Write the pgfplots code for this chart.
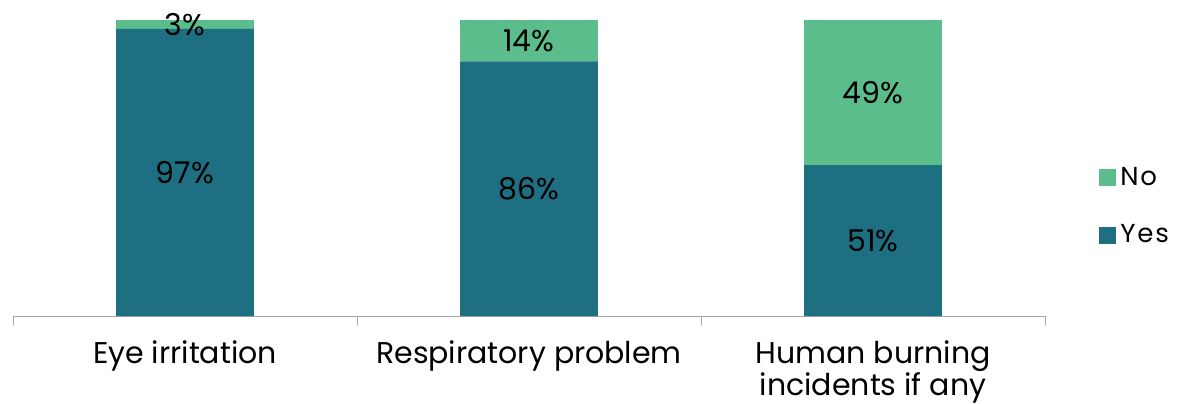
\documentclass[border=0pt]{standalone}
\usepackage{pgfplots}
\pgfplotsset{compat=1.18}
\usepackage{fontspec}
\setmainfont{Poppins}
\newfontfamily\legfont[LetterSpace=7]{Poppins}

\definecolor{yescol}{HTML}{1F6F83}
\definecolor{nocol}{HTML}{5BBD8B}
\definecolor{axgray}{HTML}{A6A6A6}

\pgfplotsset{
  common/.style={
    scale only axis,
    width=516pt, height=148pt,
    xmin=-0.5, xmax=2.5,
    ymin=0, ymax=100,
  }
}

\begin{document}
\begin{tikzpicture}
\begin{axis}[
    common,
    name=ax,
    ybar stacked,
    bar width=0.4,
    axis x line*=bottom,
    axis line style={axgray, -},
    hide y axis,
    xtick={0,1,2},
    xticklabels={Eye irritation, Respiratory problem, {Human burning\\incidents if any}},
    xticklabel style={font=\fontsize{15}{16}\selectfont, align=center, yshift=-4.5pt},
    major x tick style={draw=none},
    minor xtick={-0.5,0.5,1.5,2.5},
    minor tick length=4.5pt,
    minor x tick style={axgray},
    tick align=outside,
    legend style={draw=none, at={(1.0465,0.37)}, anchor=west,
        font=\legfont\fontsize{13}{14}\selectfont, row sep=14pt},
    legend cell align=left,
    reverse legend,
    legend image code/.code={\fill[#1] (0pt,-4.25pt) rectangle (8.5pt,4.25pt);},
]
\addplot[fill=yescol, draw=none] coordinates {(0,97) (1,86) (2,51)};
\addlegendentry{Yes}
\addplot[fill=nocol, draw=none] coordinates {(0,3) (1,14) (2,49)};
\addlegendentry{No}
\end{axis}
% value labels, centred in their segments
\begin{axis}[common, hide axis]
\addplot[draw=none, mark=none, nodes near coords, point meta=explicit symbolic,
    every node near coord/.append style={font=\fontsize{15}{16}\selectfont, text=black, anchor=center}]
  coordinates {
    (0,48.5) [97\%]  (1,43) [86\%]  (2,25.5) [51\%]
    (0,98.5) [3\%]   (1,93) [14\%]  (2,75.5) [49\%]
  };
\end{axis}
\pgfresetboundingbox
\path ([shift={(-6.5pt,-43.5pt)}]ax.south west) rectangle ([shift={(66.5pt,10pt)}]ax.north east);
\end{tikzpicture}
\end{document}
